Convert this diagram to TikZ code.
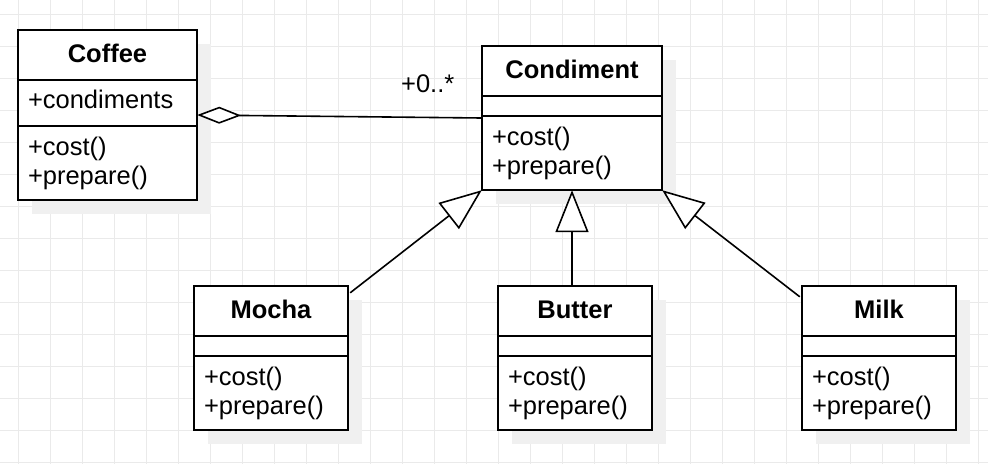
\documentclass[tikz,border=0pt]{standalone}
\usepackage{fontspec}
\setmainfont{Liberation Sans}
\usepackage{tikz}
\usetikzlibrary{positioning, arrows.meta, fit, backgrounds}

\definecolor{gridgray}{RGB}{234,234,234}
\definecolor{shadowgray}{RGB}{240,240,240}
\newcommand{\umlfont}{\fontsize{25.5pt}{29pt}\selectfont}

\tikzset{
  classhead/.style={draw, fill=white, line width=2pt, inner sep=0pt, outer sep=0pt,
    minimum height=50pt, font=\umlfont\bfseries, text height=20pt, text depth=6pt},
  classpart/.style={draw, fill=white, line width=2pt, inner xsep=10pt, inner ysep=0pt,
    outer sep=0pt, align=left},
  inherit/.style={line width=1.6pt, -{Triangle[open, length=42pt, width=33pt, fill=white]}},
  aggr/.style={line width=1.6pt, {Diamond[open, length=44pt, width=17pt, fill=white]}-},
}

\begin{document}
\begin{tikzpicture}[x=1pt, y=-1pt, node distance=0pt, font=\umlfont]
  \useasboundingbox (0,0) rectangle (988,464);
  \begin{scope}[on background layer]
    \fill[white] (0,0) rectangle (988,464);
    \foreach \gx in {18,50,...,978} \draw[gridgray, line width=1pt] (\gx,0) -- (\gx,464);
    \foreach \gy in {14,46,...,462} \draw[gridgray, line width=1pt] (0,\gy) -- (988,\gy);
  \end{scope}

  % Coffee
  \node[classhead, minimum width=179pt, anchor=north west] (coffee) at (18,30) {Coffee};
  \node[classpart, text width=159pt, minimum height=46pt, text height=18pt, text depth=7pt, below=of coffee] (coffeeA) {+condiments};
  \node[classpart, text width=159pt, minimum height=74pt, below=of coffeeA] (coffeeM) {+cost()\\+prepare()};

  % Condiment
  \node[classhead, minimum width=180pt, anchor=north west] (condiment) at (482,46) {Condiment};
  \node[classpart, text width=160pt, minimum height=20pt, below=of condiment] (condimentA) {};
  \node[classpart, text width=160pt, minimum height=74pt, below=of condimentA] (condimentM) {+cost()\\+prepare()};

  % Mocha
  \node[classhead, minimum width=154pt, anchor=north west] (mocha) at (194,286) {Mocha};
  \node[classpart, text width=134pt, minimum height=20pt, below=of mocha] (mochaA) {};
  \node[classpart, text width=134pt, minimum height=74pt, below=of mochaA] (mochaM) {+cost()\\+prepare()};

  % Butter
  \node[classhead, minimum width=154pt, anchor=north west] (butter) at (498,286) {Butter};
  \node[classpart, text width=134pt, minimum height=20pt, below=of butter] (butterA) {};
  \node[classpart, text width=134pt, minimum height=74pt, below=of butterA] (butterM) {+cost()\\+prepare()};

  % Milk
  \node[classhead, minimum width=154pt, anchor=north west] (milk) at (802,286) {Milk};
  \node[classpart, text width=134pt, minimum height=20pt, below=of milk] (milkA) {};
  \node[classpart, text width=134pt, minimum height=74pt, below=of milkA] (milkM) {+cost()\\+prepare()};

  \node[fit=(coffee)(coffeeM), inner sep=0pt] (coffeeBox) {};
  \node[fit=(condiment)(condimentM), inner sep=0pt] (condimentBox) {};
  \node[fit=(mocha)(mochaM), inner sep=0pt] (mochaBox) {};
  \node[fit=(butter)(butterM), inner sep=0pt] (butterBox) {};
  \node[fit=(milk)(milkM), inner sep=0pt] (milkBox) {};

  % shadows
  \begin{scope}[on background layer]
    \foreach \b in {coffeeBox, condimentBox, mochaBox, butterBox, milkBox}
      \fill[shadowgray] ([xshift=14pt, yshift=-14pt]\b.north west) rectangle ([xshift=14pt, yshift=-14pt]\b.south east);
  \end{scope}

  \draw[aggr] (coffeeBox.east) -- node[pos=0.81, above=24pt, inner sep=0pt] (mult) {+0..*} (condimentBox.west);
  \draw[inherit] ([xshift=2pt, yshift=-7pt]mochaBox.north east) -- (condimentBox.south west);
  \draw[inherit] (butter.north -| condimentBox.south) -- (condimentBox.south);
  \draw[inherit] ([xshift=-2pt, yshift=-11pt]milkBox.north west) -- (condimentBox.south east);
\end{tikzpicture}
\end{document}
